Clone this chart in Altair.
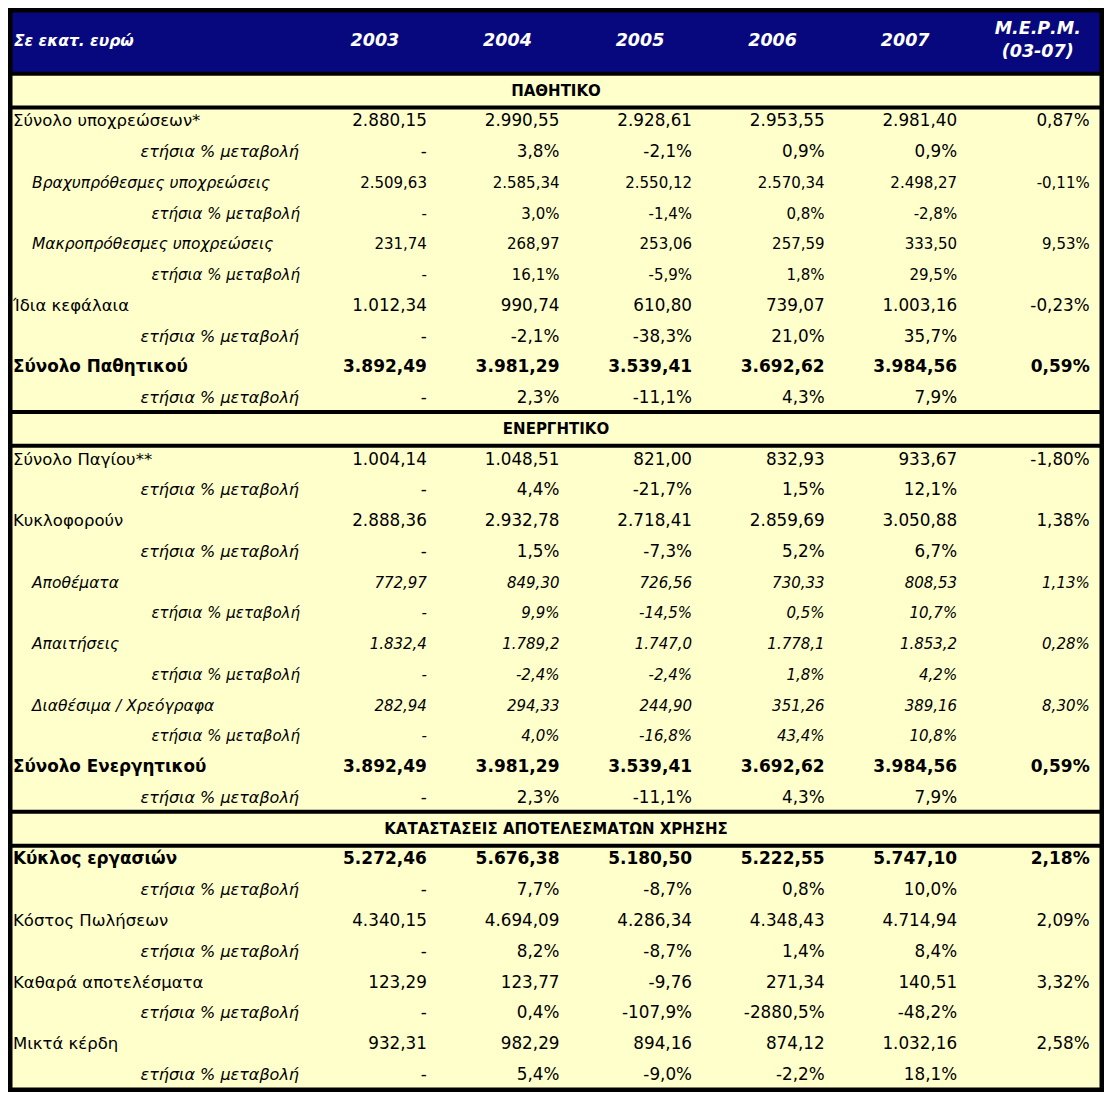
import altair as alt
import pandas as pd

# ---------------- data ----------------
unit_label = "Σε εκατ. ευρώ"
year_headers = ["2003", "2004", "2005", "2006", "2007"]
mepm_header = ["Μ.Ε.Ρ.Μ.", "(03-07)"]

sections = ["ΠΑΘΗΤΙΚΟ", "ΕΝΕΡΓΗΤΙΚΟ", "ΚΑΤΑΣΤΑΣΕΙΣ ΑΠΟΤΕΛΕΣΜΑΤΩΝ ΧΡΗΣΗΣ"]
section_rows = [-1, 10, 23]

CHG = "ετήσια % μεταβολή"
labels = [
    "Σύνολο υποχρεώσεων*", CHG, "Βραχυπρόθεσμες υποχρεώσεις", CHG,
    "Μακροπρόθεσμες υποχρεώσεις", CHG, "Ίδια κεφάλαια", CHG,
    "Σύνολο Παθητικού", CHG,
    "",
    "Σύνολο Παγίου**", CHG, "Κυκλοφορούν", CHG, "Αποθέματα", CHG,
    "Απαιτήσεις", CHG, "Διαθέσιμα / Χρεόγραφα", CHG, "Σύνολο Ενεργητικού", CHG,
    "",
    "Κύκλος εργασιών", CHG, "Κόστος Πωλήσεων", CHG, "Καθαρά αποτελέσματα", CHG,
    "Μικτά κέρδη", CHG,
]
kinds = [
    "main", "chg", "sub", "subchg", "sub", "subchg", "main", "chg", "bold", "chg",
    "section",
    "main", "chg", "main", "chg", "subi", "subichg", "subi", "subichg", "subi", "subichg",
    "bold", "chg",
    "section",
    "bold", "chg", "main", "chg", "main", "chg", "main", "chg",
]
v2003 = ["2.880,15", "-", "2.509,63", "-", "231,74", "-", "1.012,34", "-", "3.892,49", "-",
         "",
         "1.004,14", "-", "2.888,36", "-", "772,97", "-", "1.832,4", "-", "282,94", "-",
         "3.892,49", "-",
         "",
         "5.272,46", "-", "4.340,15", "-", "123,29", "-", "932,31", "-"]
v2004 = ["2.990,55", "3,8%", "2.585,34", "3,0%", "268,97", "16,1%", "990,74", "-2,1%", "3.981,29", "2,3%",
         "",
         "1.048,51", "4,4%", "2.932,78", "1,5%", "849,30", "9,9%", "1.789,2", "-2,4%", "294,33", "4,0%",
         "3.981,29", "2,3%",
         "",
         "5.676,38", "7,7%", "4.694,09", "8,2%", "123,77", "0,4%", "982,29", "5,4%"]
v2005 = ["2.928,61", "-2,1%", "2.550,12", "-1,4%", "253,06", "-5,9%", "610,80", "-38,3%", "3.539,41", "-11,1%",
         "",
         "821,00", "-21,7%", "2.718,41", "-7,3%", "726,56", "-14,5%", "1.747,0", "-2,4%", "244,90", "-16,8%",
         "3.539,41", "-11,1%",
         "",
         "5.180,50", "-8,7%", "4.286,34", "-8,7%", "-9,76", "-107,9%", "894,16", "-9,0%"]
v2006 = ["2.953,55", "0,9%", "2.570,34", "0,8%", "257,59", "1,8%", "739,07", "21,0%", "3.692,62", "4,3%",
         "",
         "832,93", "1,5%", "2.859,69", "5,2%", "730,33", "0,5%", "1.778,1", "1,8%", "351,26", "43,4%",
         "3.692,62", "4,3%",
         "",
         "5.222,55", "0,8%", "4.348,43", "1,4%", "271,34", "-2880,5%", "874,12", "-2,2%"]
v2007 = ["2.981,40", "0,9%", "2.498,27", "-2,8%", "333,50", "29,5%", "1.003,16", "35,7%", "3.984,56", "7,9%",
         "",
         "933,67", "12,1%", "3.050,88", "6,7%", "808,53", "10,7%", "1.853,2", "4,2%", "389,16", "10,8%",
         "3.984,56", "7,9%",
         "",
         "5.747,10", "10,0%", "4.714,94", "8,4%", "140,51", "-48,2%", "1.032,16", "18,1%"]
mepm = ["0,87%", "", "-0,11%", "", "9,53%", "", "-0,23%", "", "0,59%", "",
        "",
        "-1,80%", "", "1,38%", "", "1,13%", "", "0,28%", "", "8,30%", "", "0,59%", "",
        "",
        "2,18%", "", "2,09%", "", "3,32%", "", "2,58%", ""]

# ---------------- layout / style ----------------
W, H = 1096, 1084
XMIN, XMAX = -1.768, 6.5          # column-index units (label column to the left of 1)
YMIN, YMAX = -3.686, 31.56        # row-index units
NAVY = "#08087E"
YELLOW = "#FFFFCC"
FONT = "DejaVu Sans"

xs = alt.Scale(domain=[XMIN, XMAX], nice=False, zero=False)
ys = alt.Scale(domain=[YMIN, YMAX], nice=False, zero=False, reverse=True)

rows = pd.DataFrame({"row": list(range(len(labels))), "label": labels, "kind": kinds})
cols = [v2003, v2004, v2005, v2006, v2007, mepm]
vals = []
for k, col in enumerate(cols, start=1):
    for r, t in enumerate(col):
        if t != "":
            vals.append({"row": r, "col": k, "text": t, "kind": kinds[r]})
vals = pd.DataFrame(vals)

hdr_line = section_rows[0] - 0.55
bands = pd.DataFrame([
    {"x": XMIN, "x2": XMAX, "y": YMIN, "y2": hdr_line, "c": NAVY},
    {"x": XMIN, "x2": XMAX, "y": hdr_line, "y2": YMAX, "c": YELLOW},
])
lines = pd.DataFrame([{"x": XMIN, "x2": XMAX, "y": s + d} for s in section_rows for d in (-0.55, 0.55)])
frame = pd.DataFrame([{"x": XMIN, "x2": XMAX, "y": YMIN, "y2": YMAX}])

X = lambda f: alt.X(f, type="quantitative", scale=xs, axis=None)
Y = lambda f: alt.Y(f, type="quantitative", scale=ys, axis=None)

bg = alt.Chart(bands).mark_rect().encode(
    x=X("x"), x2="x2", y=Y("y"), y2="y2", color=alt.Color("c:N", scale=None))
rules = alt.Chart(lines).mark_rule(color="black", strokeWidth=4).encode(
    x=X("x"), x2="x2", y=Y("y"))
border = alt.Chart(frame).mark_rect(fillOpacity=0, stroke="black", strokeWidth=9).encode(
    x=X("x"), x2="x2", y=Y("y"), y2="y2")

def val_layer(kset, size, weight="normal", style="normal"):
    return alt.Chart(vals).transform_filter(
        alt.FieldOneOfPredicate(field="kind", oneOf=kset)
    ).mark_text(align="right", baseline="middle", dx=52, font=FONT, fontSize=size,
                fontWeight=weight, fontStyle=style, color="black").encode(
        x=X("col"), y=Y("row"), text="text:N")

def lab_layer(kset, size, dx, align, weight="normal", style="normal"):
    return alt.Chart(rows).transform_filter(
        alt.FieldOneOfPredicate(field="kind", oneOf=kset)
    ).mark_text(align=align, baseline="middle", dx=dx, font=FONT, fontSize=size,
                fontWeight=weight, fontStyle=style, color="black").encode(
        x=alt.value(0), y=Y("row"), text="label:N")

layers = [
    bg, rules,
    val_layer(["main", "chg"], 16.8),
    val_layer(["bold"], 17, weight="bold"),
    val_layer(["sub", "subchg"], 15),
    val_layer(["subi", "subichg"], 15, style="italic"),
    lab_layer(["main"], 16.5, 5, "left"),
    lab_layer(["bold"], 16.8, 5, "left", weight="bold"),
    lab_layer(["chg"], 16, 291, "right", style="italic"),
    lab_layer(["sub", "subi"], 15.5, 24, "left", style="italic"),
    lab_layer(["subchg", "subichg"], 15, 292, "right", style="italic"),
]

sec_df = pd.DataFrame({"title": sections, "row": section_rows, "x": [(XMIN + XMAX) / 2] * 3})
layers.append(alt.Chart(sec_df).mark_text(
    align="center", baseline="middle", font=FONT, fontSize=15, fontWeight="bold", color="black"
).encode(x=X("x"), y=Y("row"), text="title:N"))

hdr = pd.DataFrame(
    [{"t": unit_label, "x": XMIN, "y": -2.6, "a": "l"}]
    + [{"t": y, "x": i + 1, "y": -2.6, "a": "c"} for i, y in enumerate(year_headers)]
    + [{"t": mepm_header[0], "x": 6, "y": -3.0, "a": "c"}, {"t": mepm_header[1], "x": 6, "y": -2.27, "a": "c"}]
)
layers.append(alt.Chart(hdr).transform_filter("datum.a == 'l'").mark_text(
    align="left", baseline="middle", dx=6, font=FONT, fontSize=15.5, fontWeight="bold", fontStyle="italic",
    color="white").encode(x=X("x"), y=Y("y"), text="t:N"))
layers.append(alt.Chart(hdr).transform_filter("datum.a == 'c'").mark_text(
    align="center", baseline="middle", font=FONT, fontSize=17.5, fontWeight="bold", fontStyle="italic",
    color="white").encode(x=X("x"), y=Y("y"), text="t:N"))
layers.append(border)

chart = alt.layer(*layers).properties(
    width=W, height=H, padding=0, autosize=alt.AutoSizeParams(type="none"),
    background="white",
).configure_view(stroke=None)

chart.save("out.html", embed_options={"renderer": "svg", "actions": False})
